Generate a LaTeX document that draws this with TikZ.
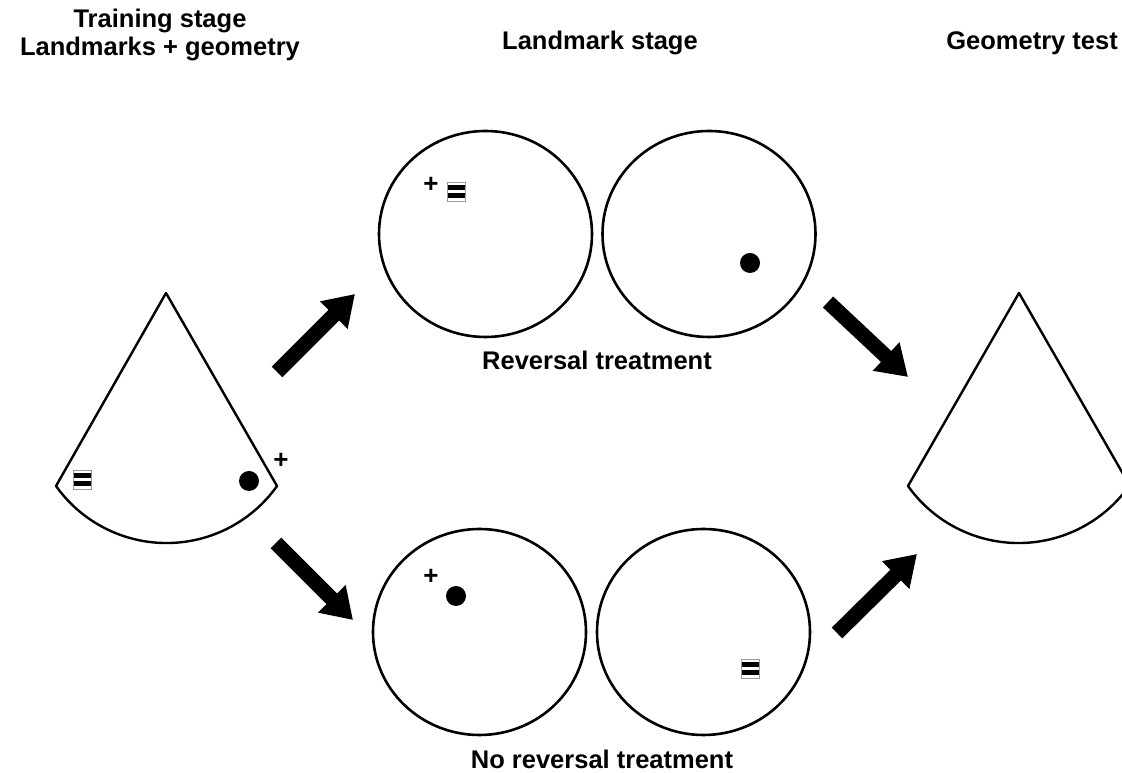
\documentclass[tikz,border=0pt]{standalone}
\usepackage{fontspec}
\setmainfont{Liberation Sans}
\usepackage{tikz}
\usetikzlibrary{arrows.meta,positioning,shapes.geometric}

\begin{document}
\begin{tikzpicture}[
  x=1pt, y=1pt,
  arena/.style={ellipse,draw=black,line width=2.6pt,
                minimum width=213pt, minimum height=206pt, inner sep=0pt},
  heading/.style={font=\fontsize{25.5}{28}\selectfont\bfseries, anchor=base,
                  inner sep=0pt},
  plusmark/.style={font=\fontsize{26}{26}\selectfont\bfseries, inner sep=0pt},
  beacon/.style={circle,fill=black,minimum size=20pt,inner sep=0pt},
  stripes/.style={rectangle,draw=black!40,line width=0.8pt,fill=white,
                  minimum width=18pt,minimum height=19pt,inner sep=0pt,
                  path picture={
                    \fill[black] ([yshift=-3pt]path picture bounding box.north west)
                      rectangle ([yshift=-8pt]path picture bounding box.north east);
                    \fill[black] ([yshift=3pt]path picture bounding box.south west)
                      rectangle ([yshift=8pt]path picture bounding box.south east);
                  }},
  bigarrow/.style={line width=15pt,-{Triangle[length=30pt,width=37pt]}},
]
  \clip (0,0) rectangle (1122,773);

  %% Headings
  \node[heading] (train) at (160,745) {Training stage};
  \node[heading] (trainsub) at (160,717) {Landmarks + geometry};
  \node[heading] (lmstage) at (600,723) {Landmark stage};
  \node[heading,anchor=base east] (geotest) at (1118,723) {Geometry test};

  %% Training arena (kite shape)
  \draw[line width=2.4pt,line join=round]
    (277,287) coordinate (trR) -- (166,480) coordinate (trA)
    -- (56,287) coordinate (trL)
    arc[start angle=-144.6, end angle=-35.4, radius=135.6] -- cycle;
  \node[stripes] (trS) at (82,293) {};
  \node[beacon] (trB) at (249,292) {};
  \node[plusmark] (trP) at (281,312) {+};

  %% Landmark stage, reversal
  \node[arena] (UL) at (485.5,539) {};
  \node[arena] (UR) at (709,539) {};
  \node[plusmark] (ulP) at (431,588) {+};
  \node[stripes] (ulS) at (456.5,581.5) {};
  \node[beacon] (urB) at (750,510) {};
  \node[heading] (rev) at (597,403) {Reversal treatment};

  %% Landmark stage, no reversal
  \node[arena] (LL) at (479.5,141) {};
  \node[arena] (LR) at (703.5,141) {};
  \node[plusmark] (llP) at (431,196) {+};
  \node[beacon] (llB) at (456,177) {};
  \node[stripes] (lrS) at (750,104.5) {};
  \node[heading] (norev) at (602,4) {No reversal treatment};

  %% Test arena
  \draw[line width=2.4pt,line join=round]
    (1130,287) coordinate (teR) -- (1019,480) coordinate (teA)
    -- (908,287) coordinate (teL)
    arc[start angle=-144.6, end angle=-35.4, radius=135.6] -- cycle;

  %% Arrows
  \coordinate (a1s) at (277,401); \coordinate (a1e) at (355,479);
  \coordinate (a2s) at (276,230); \coordinate (a2e) at (353,153);
  \coordinate (a3s) at (828,471); \coordinate (a3e) at (908,396);
  \coordinate (a4s) at (837,140); \coordinate (a4e) at (917,219);
  \draw[bigarrow] (a1s) -- (a1e);
  \draw[bigarrow] (a2s) -- (a2e);
  \draw[bigarrow] (a3s) -- (a3e);
  \draw[bigarrow] (a4s) -- (a4e);
\end{tikzpicture}
\end{document}
